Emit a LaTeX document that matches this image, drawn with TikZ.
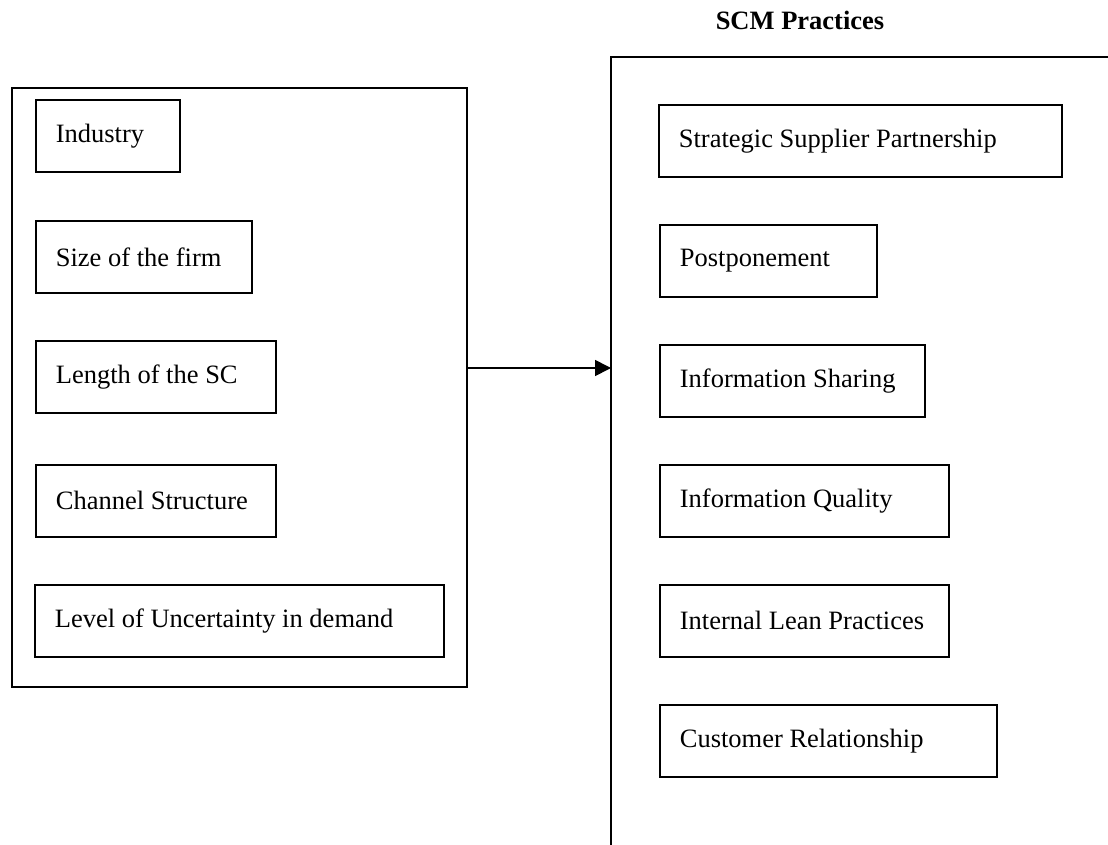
\documentclass[tikz,border=0pt]{standalone}
\usepackage{fontspec}
\setmainfont{Liberation Serif}
\usetikzlibrary{arrows.meta}
\begin{document}
\begin{tikzpicture}[x=1pt,y=-1pt,
  every node/.style={font=\fontsize{26.5}{30}\selectfont},
  item/.style={draw, line width=1.7pt, anchor=north west, minimum height=72pt, inner xsep=20pt, inner ysep=0pt, align=flush left},
  frame/.style={draw, line width=1.7pt, anchor=north west, inner sep=0pt},
  conn/.style={line width=1.7pt, -{Triangle[length=16pt,width=16pt]}}]
\useasboundingbox (0,0) rectangle (1108,845);
% left frame
\node[frame, minimum width=455pt, minimum height=599pt] (L) at (11,87) {};
\node[item, text width=104pt] (ind) at (35,99) {Industry};
\node[item, text width=176pt] (size) at (35,220) {Size of the firm};
\node[item, text width=200pt] (len) at (35,340) {Length of the SC};
\node[item, text width=200pt] (chan) at (35,464) {Channel Structure};
\node[item, text width=369pt] (lev) at (34,584) {Level of Uncertainty in demand};
% right open frame
\coordinate (rtop) at (1108,57);
\coordinate (rcorner) at (611,57);
\coordinate (rbot) at (611,845);
\draw[line width=1.7pt] (rtop) -- (rcorner) -- (rbot);
\node[font=\fontsize{26.5}{30}\selectfont\bfseries] (title) at (800,20) {SCM Practices};
\node[item, text width=363pt] (ssp) at (658,104) {Strategic Supplier Partnership};
\node[item, text width=177pt] (post) at (659,224) {Postponement};
\node[item, text width=225pt] (share) at (659,344) {Information Sharing};
\node[item, text width=249pt] (qual) at (659,464) {Information Quality};
\node[item, text width=249pt] (lean) at (659,584) {Internal Lean Practices};
\node[item, text width=297pt] (cust) at (659,704) {Customer Relationship};
% arrow
\coordinate (tip) at (611,368);
\draw[conn] (L.east |- tip) -- (tip);
\end{tikzpicture}
\end{document}
